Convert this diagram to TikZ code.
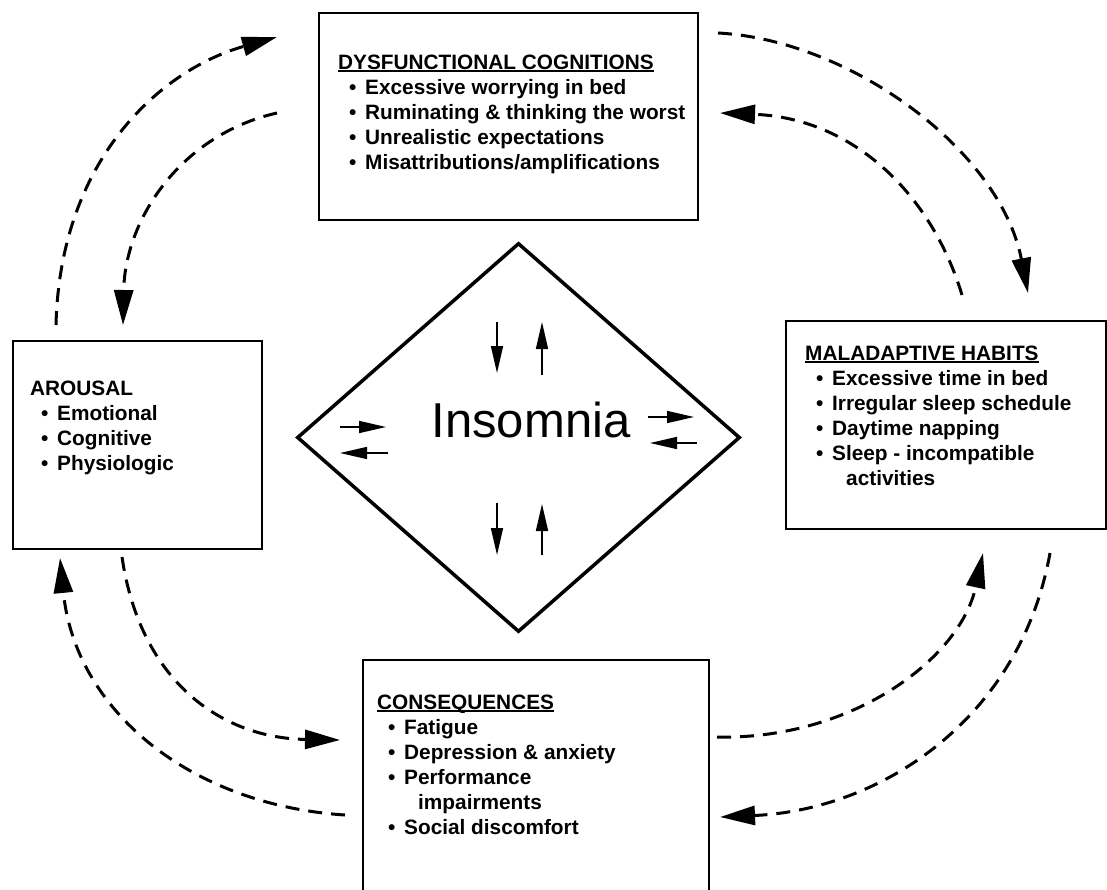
\documentclass[tikz,border=0pt]{standalone}
\usepackage{fontspec}
\setmainfont{Liberation Sans}
\usepackage{tikz}
\usetikzlibrary{
  positioning,
  shapes.geometric,
  arrows.meta
}

\newcommand{\itm}[1]{\hspace*{11pt}\makebox[16pt][l]{\textbullet}#1}
\newcommand{\ttl}[1]{\sbox0{#1}\rlap{\rule[-3pt]{\wd0}{1.8pt}}\usebox0}

\tikzset{
  box/.style={draw, line width=2pt, rectangle, inner sep=0pt, anchor=north west},
  boxtext/.style={anchor=north west, align=left, inner sep=0pt,
    font=\fontsize{20.8}{25}\selectfont\bfseries},
  feedback/.style={->, line width=3pt, dash pattern=on 14pt off 9pt},
  tinyarr/.style={-{Triangle[length=27pt,width=12pt]}, line width=1.6pt}
}

\begin{document}
\begin{tikzpicture}[x=1pt,y=-1pt,>={Triangle[length=35pt,width=19pt]}]
            \useasboundingbox (0,0) rectangle (1107,890);
            \clip (0,0) rectangle (1107,890);

            \node[box, minimum width=379pt, minimum height=207pt] (cog) at (318,12) {};
            \node[box, minimum width=249pt, minimum height=208pt] (aro) at (12,340) {};
            \node[box, minimum width=320pt, minimum height=208pt] (mal) at (785,320) {};
            \node[box, minimum width=346pt, minimum height=300pt] (cons) at (362,659) {};

            \node[boxtext] (cogtxt) at ([shift={(20,42.5)}]cog.north west)
              {\ttl{DYSFUNCTIONAL COGNITIONS}\\
               \itm{Excessive worrying in bed}\\
               \itm{Ruminating \& thinking the worst}\\
               \itm{Unrealistic expectations}\\
               \itm{Misattributions/amplifications}};
            \node[boxtext] (arotxt) at ([shift={(18,40.5)}]aro.north west)
              {AROUSAL\\
               \itm{Emotional}\\
               \itm{Cognitive}\\
               \itm{Physiologic}};
            \node[boxtext] (maltxt) at ([shift={(20,25.5)}]mal.north west)
              {\ttl{MALADAPTIVE HABITS}\\
               \itm{Excessive time in bed}\\
               \itm{Irregular sleep schedule}\\
               \itm{Daytime napping}\\
               \itm{Sleep - incompatible}\\
               \hspace*{41pt}activities};
            \node[boxtext] (constxt) at ([shift={(15,35.5)}]cons.north west)
              {\ttl{CONSEQUENCES}\\
               \itm{Fatigue}\\
               \itm{Depression \& anxiety}\\
               \itm{Performance}\\
               \hspace*{41pt}impairments\\
               \itm{Social discomfort}};

            % centre
            \node[diamond, draw, line width=3.5pt, minimum width=443pt, minimum height=389pt,
              inner sep=0pt] (insom) at (518.5,437.5) {};
            \node[font=\fontsize{49}{55}\selectfont] (insomlbl) at (531,420) {Insomnia};

            \draw[tinyarr] ([shift={(-21.5,-115.5)}]insom.center) -- ++(0,51);
            \draw[tinyarr] ([shift={(23.5,-62.5)}]insom.center) -- ++(0,-53);
            \draw[tinyarr] ([shift={(-21.5,65.5)}]insom.center) -- ++(0,52);
            \draw[tinyarr] ([shift={(23.5,117.5)}]insom.center) -- ++(0,-51);
            \draw[tinyarr] ([shift={(-178.5,-10.5)}]insom.center) -- ++(46,0);
            \draw[tinyarr] ([shift={(-130.5,15.5)}]insom.center) -- ++(-48,0);
            \draw[tinyarr] ([shift={(129.5,-20.5)}]insom.center) -- ++(46,0);
            \draw[tinyarr] ([shift={(178.5,5.5)}]insom.center) -- ++(-47,0);

            % ends of the dashed loops
            \coordinate (a2c-s) at (56,325);
            \coordinate (a2c-e) at (277,37);
            \coordinate (c2a-s) at (277,113);
            \coordinate (c2a-e) at (123,325);
            \coordinate (c2m-s) at (718,33);
            \coordinate (c2m-e) at (1028,293);
            \coordinate (m2c-s) at (962,295);
            \coordinate (m2c-e) at (720,113);
            \coordinate (a2s-s) at (122,557);
            \coordinate (a2s-e) at (340,740);
            \coordinate (s2a-s) at (345,815);
            \coordinate (s2a-e) at (60,558);
            \coordinate (s2m-s) at (717,737);
            \coordinate (s2m-e) at (983,553);
            \coordinate (m2s-s) at (1050,553);
            \coordinate (m2s-e) at (720,817);

            \draw[feedback] (a2c-s) .. controls (60,160) and (160,70) .. (a2c-e);
            \draw[feedback] (c2a-s) .. controls (180,135) and (125,220) .. (c2a-e);
            \draw[feedback] (c2m-s) .. controls (850,40) and (1000,150) .. (c2m-e);
            \draw[feedback] (m2c-s) .. controls (930,190) and (850,118) .. (m2c-e);
            \draw[feedback] (a2s-s) .. controls (140,680) and (220,738) .. (a2s-e);
            \draw[feedback] (s2a-s) .. controls (190,805) and (75,710) .. (s2a-e);
            \draw[feedback] (s2m-s) .. controls (850,740) and (960,660) .. (s2m-e);
            \draw[feedback] (m2s-s) .. controls (1020,720) and (880,810) .. (m2s-e);
        \end{tikzpicture}
\end{document}
